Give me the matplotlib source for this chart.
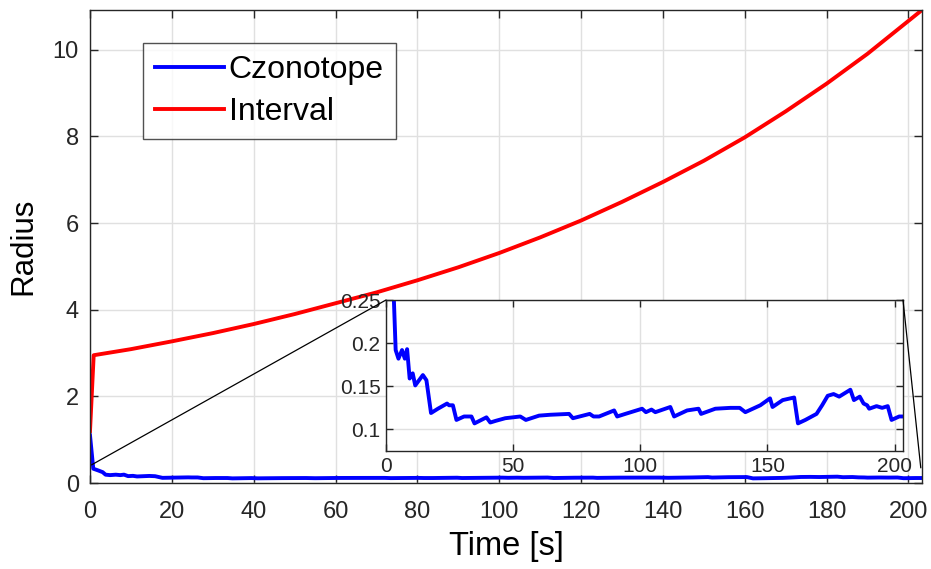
import matplotlib
matplotlib.use("Agg")
import matplotlib.pyplot as plt
from matplotlib.patches import ConnectionPatch

plt.rcParams['font.family'] = ['Liberation Sans', 'DejaVu Sans']

# interval radius
t_int = [0, 0.9, 10, 20, 30, 40, 50, 60, 70, 80, 90, 100, 110, 120, 130,
         140, 150, 160, 170, 180, 190, 203.3]
r_int = [1.2, 2.95, 3.09, 3.27, 3.46, 3.67, 3.90, 4.15, 4.40, 4.68, 4.98,
         5.31, 5.67, 6.06, 6.49, 6.95, 7.44, 7.98, 8.58, 9.22, 9.91, 10.92]

# constrained zonotope radius
t_cz = [0, 0.8, 2, 3.1, 3.8, 4.9, 6.3, 7.4, 8.3, 9.3, 10.5, 11.5, 14.5, 15.9,
        17.7, 20.4, 24.0, 24.8, 26.3, 27.7, 30.7, 33.6, 34.8, 39.5, 41.0,
        43.2, 46.9, 52.8, 55.0, 60.2, 64.6, 72.0, 73.5, 80.1, 81.6, 83.8,
        89.7, 90.9, 94.1, 100.7, 102.2, 104.4, 105.9, 111.8, 113.3, 118.4,
        122.9, 123.9, 129.5, 135.4, 139.1, 141.3, 147.2, 151.0, 152.0, 156.0,
        160.5, 162.0, 164.9, 169.3, 171.5, 173.7, 176.0, 178.2, 182.6, 184.0,
        186.3, 187.8, 189.2, 190.0, 192.9, 195.1, 197.3, 198.8, 201.8, 203.3]
r_cz = [1.1, 0.33, 0.29, 0.25, 0.192, 0.182, 0.192, 0.182, 0.193, 0.159,
        0.165, 0.151, 0.163, 0.157, 0.119, 0.124, 0.130, 0.128, 0.128, 0.111,
        0.115, 0.115, 0.107, 0.114, 0.108, 0.110, 0.113, 0.115, 0.111, 0.116,
        0.117, 0.118, 0.113, 0.118, 0.115, 0.115, 0.122, 0.115, 0.118, 0.124,
        0.120, 0.123, 0.120, 0.126, 0.115, 0.122, 0.124, 0.118, 0.124, 0.125,
        0.125, 0.120, 0.128, 0.136, 0.126, 0.134, 0.137, 0.107, 0.111, 0.118,
        0.128, 0.139, 0.141, 0.138, 0.146, 0.134, 0.138, 0.130, 0.128, 0.124,
        0.127, 0.125, 0.127, 0.111, 0.115, 0.115]

x_ticks = [0, 20, 40, 60, 80, 100, 120, 140, 160, 180, 200]
y_ticks = [0, 2, 4, 6, 8, 10]
in_x_ticks = [0, 50, 100, 150, 200]
in_y_ticks = [0.1, 0.15, 0.2, 0.25]

W, H = 931, 569
fig = plt.figure(figsize=(W / 100, H / 100), dpi=100)


def style_axes(ax, size):
    ax.grid(True, color='0.88', lw=1.0)
    ax.set_axisbelow(True)
    for s in ax.spines.values():
        s.set_color('0.15')
        s.set_linewidth(1.0)
    ax.tick_params(direction='in', top=True, right=True, length=6,
                   width=1.0, color='0.15', labelcolor='0.15',
                   labelsize=size)


# main axes
ax = fig.add_axes([90 / W, (H - 483) / H, (922 - 90) / W, (483 - 10) / H])
ax.plot(t_cz, r_cz, color='blue', lw=2.8, label='Czonotope')
ax.plot(t_int, r_int, color='red', lw=2.8, label='Interval')
ax.set_xlim(0, 203.3)
ax.set_ylim(0, 10.92)
ax.set_xticks(x_ticks)
ax.set_yticks(y_ticks)
style_axes(ax, 17)
ax.tick_params(axis='x', pad=13)
ax.tick_params(axis='y', pad=8)
ax.set_xlabel('Time [s]', fontsize=23.5, labelpad=6)
ax.set_ylabel('Radius', fontsize=22.5, labelpad=10)

leg = ax.legend(loc='upper left', bbox_to_anchor=(143 / W, 1 - 43 / H),
                bbox_transform=fig.transFigure, fontsize=23,
                frameon=True, fancybox=False, handlelength=2.15,
                handletextpad=0.15, labelspacing=0.38, borderpad=0.38,
                borderaxespad=0)
leg.get_frame().set_edgecolor('0.15')
leg.get_frame().set_linewidth(1.0)

# inset
ax_in = fig.add_axes([386 / W, (H - 451) / H, (903 - 386) / W, (451 - 300) / H])
ax_in.plot(t_cz, r_cz, color='blue', lw=2.8)
ax_in.set_xlim(0, 203.3)
ax_in.set_ylim(0.075, 0.25)
ax_in.set_xticks(in_x_ticks)
ax_in.set_yticks(in_y_ticks)
ax_in.set_yticklabels(['0.1', '0.15', '0.2', '0.25'])
style_axes(ax_in, 15)
ax_in.tick_params(length=5, pad=4)

# connector lines
for xy_a, xy_b in [((0.4, 0.42), (0, 1)), ((203, 0.35), (1, 1))]:
    con = ConnectionPatch(xyA=xy_a, coordsA=ax.transData,
                          xyB=xy_b, coordsB=ax_in.transAxes,
                          color='black', lw=0.9)
    fig.add_artist(con)

fig.savefig('out.png', dpi=100)
